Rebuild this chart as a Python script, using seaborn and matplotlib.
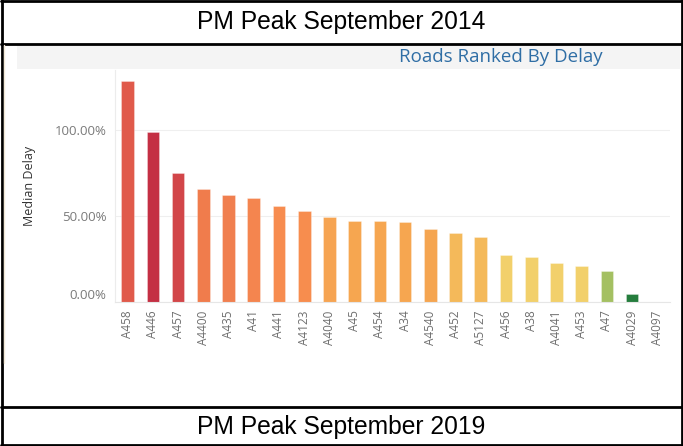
import matplotlib
matplotlib.use("Agg")
import matplotlib.pyplot as plt
import seaborn as sns
import pandas as pd
from matplotlib.lines import Line2D
from matplotlib.patches import Rectangle
from matplotlib.ticker import FuncFormatter

roads = ["A458", "A446", "A457", "A4400", "A435", "A41", "A441", "A4123", "A4040",
         "A45", "A454", "A34", "A4540", "A452", "A5127", "A456", "A38", "A4041",
         "A453", "A47", "A4029", "A4097"]
median_delay = [128.5, 98.7, 74.8, 65.7, 62.0, 60.5, 56.0, 52.9, 49.2,
                46.9, 46.9, 46.3, 42.6, 40.4, 37.6, 27.1, 26.2, 22.5,
                20.9, 18.0, 4.5, 0.0]
bar_colors = ["#e05a4b", "#c42f43", "#d24649", "#f07c4c", "#f07f4f", "#f4854f",
              "#f78c4f", "#f78d4e", "#f6a452", "#f6a650", "#f6a650", "#f6a650",
              "#f5a550", "#f4b95a", "#f4b95a", "#f2d06b", "#f2d06b", "#f2d06b",
              "#f2d06b", "#a4c062", "#257d3d", "#ffffff"]
yticks = [0, 50, 100]

df = pd.DataFrame({"Road": roads, "Delay": median_delay})

sns.set_style("white")
plt.rcParams["font.family"] = ["Open Sans", "DejaVu Sans"]

W, H = 683, 446
fig = plt.figure(figsize=(W / 100, H / 100), dpi=100)

def fx(x):
    return x / W

def fy(y):
    return 1 - y / H

# header band
fig.add_artist(Rectangle((fx(17), fy(69)), fx(680) - fx(17), fy(45) - fy(69),
                         transform=fig.transFigure, facecolor="#f4f4f4",
                         edgecolor="none", zorder=0))
fig.text(fx(501), fy(57), "Roads Ranked By Delay", ha="center", va="center",
         fontsize=13.5, color="#2f6ea5")

ax = fig.add_axes([fx(115), fy(302), fx(670) - fx(115), fy(70) - fy(302)])
sns.barplot(data=df, x="Road", y="Delay", hue="Road", palette=bar_colors,
            saturation=1, legend=False, width=0.5, ax=ax,
            edgecolor="#ffffff", linewidth=0.6)
for p in ax.patches:
    p.set_edgecolor((1, 1, 1, 0.35))

ax.set_xlim(-0.5, len(roads) - 0.5)
ax.set_ylim(0, 135)
ax.set_yticks(yticks)
ax.yaxis.set_major_formatter(FuncFormatter(lambda v, p: f"{v:.2f}%"))
for t in ax.get_yticklabels():
    t.set_color("#7a7a7a")
    t.set_fontsize(9.5)
ax.get_yticklabels()[0].set_va("bottom")
ax.tick_params(axis="y", length=0, pad=6)
ax.grid(axis="y", color="#efefef", linewidth=0.8)
ax.set_axisbelow(True)

ax.tick_params(axis="x", length=0, pad=6)
ax.set_xticks(range(len(roads)))
ax.set_xticklabels(roads, rotation=90, fontsize=8.5, color="#6e6e6e")
ax.set_xticks([i + 0.5 for i in range(-1, len(roads))], minor=True)
ax.tick_params(axis="x", which="minor", length=4, color="#e6e6e6", width=0.8)

ax.set_xlabel("")
ax.set_ylabel("")
fig.text(fx(30), fy(186), "Median Delay", rotation=90, ha="center", va="center",
         fontsize=9, color="#333333")

for s in ["top", "right"]:
    ax.spines[s].set_visible(False)
ax.spines["left"].set_color("#ececec")
ax.spines["bottom"].set_color("#e6e6e6")
ax.spines["left"].set_linewidth(0.8)
ax.spines["bottom"].set_linewidth(0.8)

# table frame
lw = 2.0
def hline(y, x0=1, x1=682):
    fig.add_artist(Line2D([fx(x0), fx(x1)], [fy(y), fy(y)], transform=fig.transFigure,
                          color="black", linewidth=lw))

def vline(x, y0=0, y1=446):
    fig.add_artist(Line2D([fx(x), fx(x)], [fy(y0), fy(y1)], transform=fig.transFigure,
                          color="black", linewidth=lw))

hline(1)
hline(44)
hline(407)
hline(445)
vline(1.5)
vline(681.5)
fig.add_artist(Line2D([fx(4), fx(4)], [fy(45), fy(363)], transform=fig.transFigure,
                      color="#f3ead8", linewidth=1))

fig.text(0.5, fy(22), "PM Peak September 2014", ha="center", va="center",
         fontsize=17.7, family=["Liberation Sans", "DejaVu Sans"], color="black")
fig.text(0.5, fy(427), "PM Peak September 2019", ha="center", va="center",
         fontsize=17.7, family=["Liberation Sans", "DejaVu Sans"], color="black")

fig.savefig("out.png", dpi=100)
